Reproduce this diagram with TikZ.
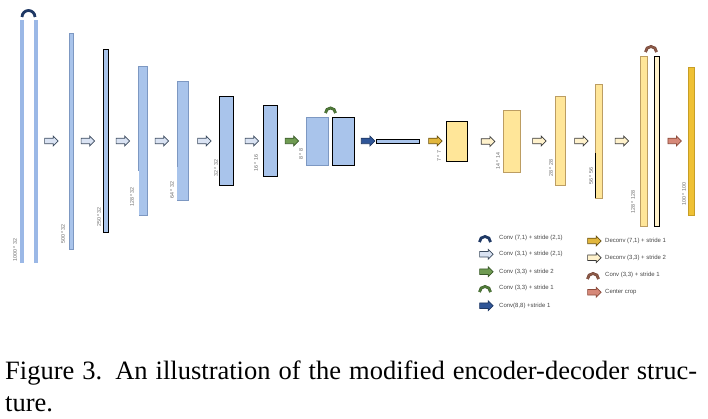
\documentclass[tikz,border=0pt]{standalone}
\usepackage{fontspec}
\setmainfont{Liberation Serif}
\setsansfont{Liberation Sans}
\usetikzlibrary{shapes.arrows}

% bar colours
\definecolor{encthin}{HTML}{9BB8E6}
\definecolor{encfill}{HTML}{A9C4EB}
\definecolor{encline}{HTML}{7D98C2}
\definecolor{decfill}{HTML}{FFE699}
\definecolor{decline}{HTML}{BC9D62}
\definecolor{skipfill}{HTML}{FFF2CC}
\definecolor{cropfill}{HTML}{EFC134}
\definecolor{cropline}{HTML}{C79E26}
% arrow and arc colours
\definecolor{downfill}{HTML}{DAE3F3}
\definecolor{downline}{HTML}{3B4A5E}
\definecolor{sqfill}{HTML}{6F9B52}
\definecolor{sqline}{HTML}{3A5A2A}
\definecolor{fcfill}{HTML}{2F5597}
\definecolor{fcline}{HTML}{1F3864}
\definecolor{upfill}{HTML}{E1B63C}
\definecolor{upline}{HTML}{6B5210}
\definecolor{uptwofill}{HTML}{FFF2CC}
\definecolor{uptwoline}{HTML}{3A3A3A}
\definecolor{cropafill}{HTML}{D68878}
\definecolor{cropaline}{HTML}{8B4A3A}
\definecolor{navyarc}{HTML}{1F3864}
\definecolor{greenarc}{HTML}{4F7A38}
\definecolor{brownarc}{HTML}{8A5A48}

\tikzset{
  thinbar/.style={fill=encthin, draw=encthin},
  encbar/.style={fill=encfill, draw=encline, line width=0.6pt},
  encbarb/.style={fill=encfill, draw=black, line width=0.9pt},
  decbar/.style={fill=decfill, draw=decline, line width=0.6pt},
  decbarb/.style={fill=decfill, draw=black, line width=0.9pt},
  blockarrow/.style={single arrow, draw, line width=0.7pt, inner xsep=0pt,
    inner ysep=2.4pt, minimum height=13.5pt, single arrow head extend=2.2pt},
  downarrow/.style={blockarrow, fill=downfill, draw=downline},
  sqarrow/.style={blockarrow, fill=sqfill, draw=sqline},
  fcarrow/.style={blockarrow, fill=fcfill, draw=fcline},
  uparrow/.style={blockarrow, fill=upfill, draw=upline},
  uptwoarrow/.style={blockarrow, fill=uptwofill, draw=uptwoline},
  croparrow/.style={blockarrow, fill=cropafill, draw=cropaline},
  skiparc/.style={line width=0.5pt, double distance=1.8pt},
  dimlabel/.style={rotate=90, inner sep=0pt, text=black!60,
    font=\sffamily\fontsize{5.3}{6}\selectfont},
  legtext/.style={anchor=west, inner sep=0pt, text=black!72,
    font=\sffamily\fontsize{6}{7}\selectfont},
  captext/.style={anchor=base west, inner sep=0pt,
    font=\fontsize{26.5}{33}\selectfont},
}

\begin{document}
\begin{tikzpicture}[x=1pt, y=-1pt]
    \useasboundingbox (0,0) rectangle (708,419);

    % encoder: 1000*32 input pair with skip arc
    \draw[thinbar] (20,20) rectangle (23,262);
    \draw[thinbar] (34,20) rectangle (37,262);
    \draw[skiparc, draw=navyarc, double=navyarc] (22,17) arc (180:360:6.5);
    \node[dimlabel] (l1000) at (15,250) {1000 * 32};

    % encoder: strided (3,1) convolutions
    \node[downarrow] (down1) at (50,141) {};
    \draw[encbar] (69,33) rectangle (73,249);
    \node[dimlabel] (l500) at (63,234) {500 * 32};

    \node[downarrow] (down2) at (86.5,141) {};
    \draw[encbarb] (103.5,49) rectangle (108.5,232.5);
    \node[dimlabel] (l250) at (99,217) {250 * 32};

    \node[downarrow] (down3) at (121.5,141) {};
    \draw[fill=encfill, draw=none] (138.5,66.5) rectangle (147.3,215.7);
    \draw[encline, line width=0.6pt] (138.5,171) -- (138.5,66.5) -- (147.3,66.5)
        -- (147.3,215.7) -- (138.5,215.7);
    \node[dimlabel] (l128) at (132,197) {128 * 32};

    \node[downarrow] (down4) at (160.5,141) {};
    \draw[fill=encfill, draw=none] (177.3,81.7) rectangle (188.7,200.7);
    \draw[encline, line width=0.6pt] (177.3,167) -- (177.3,81.7) -- (188.7,81.7)
        -- (188.7,200.7) -- (177.3,200.7);
    \node[dimlabel] (l64) at (172,190) {64 * 32};

    \node[downarrow] (down5) at (203,141) {};
    \draw[encbarb] (219.3,96.7) rectangle (233.3,185);
    \node[dimlabel] (l32) at (216,168) {32 * 32};

    \node[downarrow] (down6) at (250.5,141) {};
    \draw[encbarb] (263.3,105.7) rectangle (277.3,176);
    \node[dimlabel] (l16) at (256,163) {16 * 16};

    % encoder: (3,3) stride 2, then 8*8 pair with skip arc
    \node[sqarrow] (sq) at (290.5,141) {};
    \draw[encbar] (306.3,117.3) rectangle (328.7,165.3);
    \draw[encbarb] (332.3,117.3) rectangle (354.7,165.3);
    \draw[skiparc, draw=sqline, double=greenarc] (325.5,113) arc (180:360:5);
    \node[dimlabel] (l8) at (301,154) {8 * 8};

    % bottleneck: (8,8) convolution
    \node[fcarrow] (fc) at (366.7,141) {};
    \draw[encbarb] (376,139.3) rectangle (419.7,143.3);

    % decoder: deconvolutions
    \node[uparrow] (up1) at (434,141) {};
    \draw[decbarb] (446.7,121.3) rectangle (467.3,161.7);
    \node[dimlabel] (l7) at (439,156) {7 * 7};

    \node[uptwoarrow] (uptwo1) at (486.7,141.5) {};
    \draw[decbar] (503.7,110) rectangle (520.7,172.3);
    \node[dimlabel] (l14) at (498,161) {14 * 14};

    \node[uptwoarrow] (uptwo2) at (538,141) {};
    \draw[decbar] (555,96) rectangle (565.7,185.7);
    \node[dimlabel] (l28) at (551,168) {28 * 28};

    \node[uptwoarrow] (uptwo3) at (580,141) {};
    \draw[decbar] (595.7,84) rectangle (602.7,198.3);
    \draw[black, line width=0.8pt] (595.7,153) -- (595.7,198.3);
    \node[dimlabel] (l56) at (591,176) {56 * 56};

    % decoder: 128*128 pair with skip arc
    \node[uptwoarrow] (uptwo4) at (620.5,141) {};
    \draw[decbar] (640,56) rectangle (647,226);
    \draw[fill=skipfill, draw=black, line width=0.9pt] (654.3,56) rectangle (659.7,226);
    \draw[skiparc, draw=cropaline!80!black, double=brownarc] (645.5,52) arc (180:360:5.5);
    \node[dimlabel] (l128b) at (633,202) {128 * 128};

    % center crop to output
    \node[croparrow] (crop) at (673.3,141) {};
    \draw[fill=cropfill, draw=cropline, line width=0.6pt] (688.3,67.3) rectangle (694,215);
    \node[dimlabel] (l100) at (684,194) {100 * 100};

    % legend, left column
    \draw[skiparc, draw=navyarc, double=navyarc] (479.5,242) arc (180:360:5.5);
    \node[legtext] (t1) at (499,238) {Conv (7,1) + stride (2,1)};
    \node[downarrow] (k2) at (485,254.3) {};
    \node[legtext] (t2) at (499,254.3) {Conv (3,1) + stride (2,1)};
    \node[sqarrow] (k3) at (485,271.7) {};
    \node[legtext] (t3) at (499,271.7) {Conv (3,3) + stride 2};
    \draw[skiparc, draw=sqline, double=greenarc] (479.5,292) arc (180:360:5.5);
    \node[legtext] (t4) at (499,288.3) {Conv (3,3) + stride 1};
    \node[fcarrow] (k5) at (485,305.7) {};
    \node[legtext] (t5) at (499,305.7) {Conv(8,8) +stride 1};

    % legend, right column
    \node[uparrow] (k6) at (593,241) {};
    \node[legtext] (t6) at (605,241) {Deconv (7,1) + stride 1};
    \node[uptwoarrow] (k7) at (593,257.7) {};
    \node[legtext] (t7) at (605,257.7) {Deconv (3,3) + stride 2};
    \draw[skiparc, draw=cropaline!80!black, double=brownarc] (587.5,279) arc (180:360:5.5);
    \node[legtext] (t8) at (605,275) {Conv (3,3) + stride 1};
    \node[croparrow] (k9) at (593,292.3) {};
    \node[legtext] (t9) at (605,292.3) {Center crop};

    % caption
    \node[captext] (cap1) at (5,379)
        {\makebox[692pt][s]{Figure 3. An illustration of the modified encoder-decoder struc-}};
    \node[captext] (cap2) at (5,411) {ture.};

\end{tikzpicture}
\end{document}
